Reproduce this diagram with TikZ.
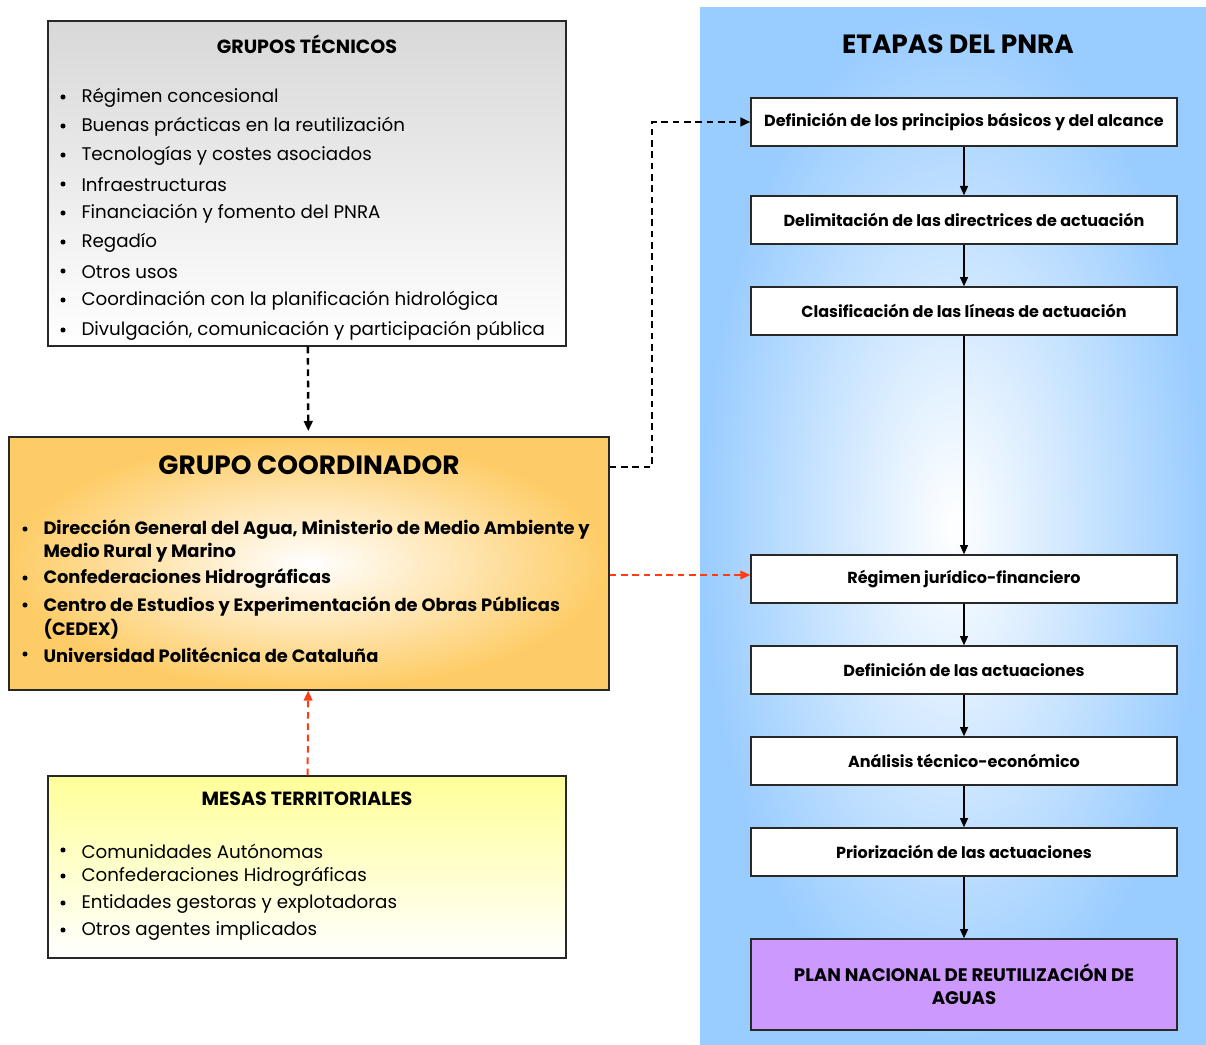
\documentclass[tikz,border=0pt]{standalone}
\usepackage{fontspec}
\setmainfont{Poppins}
\usetikzlibrary{arrows.meta}

\definecolor{azulpanel}{RGB}{153,204,255}
\definecolor{naranja}{RGB}{254,204,102}
\definecolor{amarillo}{RGB}{255,255,153}
\definecolor{gris}{RGB}{216,216,216}
\definecolor{lila}{RGB}{204,153,255}
\definecolor{rojo}{RGB}{255,60,20}
\definecolor{borde}{RGB}{40,40,40}

\tikzset{every picture/.style={line width=0.75pt}}
\tikzset{
  caja/.style={draw=borde, line width=1pt, inner sep=0pt},
  etapa/.style={caja, fill=white, minimum width=319.5pt, minimum height=36pt,
    font=\fontsize{12}{14}\selectfont\bfseries},
  lista/.style={anchor=west, inner sep=0pt, font=\fontsize{13.7}{16}\selectfont},
  listab/.style={anchor=west, inner sep=0pt, font=\fontsize{13.4}{16}\selectfont\bfseries},
  punto/.style={circle, fill=black, minimum size=3.8pt, inner sep=0pt},
  titulo/.style={inner sep=0pt, font=\fontsize{14.3}{17}\selectfont\bfseries},
  titulogr/.style={inner sep=0pt, font=\fontsize{19.8}{23}\selectfont\bfseries},
  flecha/.style={-{Triangle[length=7pt,width=6pt]}, line width=1.1pt},
  rayas/.style={-{Triangle[length=7.5pt,width=6.5pt]}, dash pattern=on 5pt off 3.5pt, line width=1.8pt},
  rayasroja/.style={-{Triangle[length=7.5pt,width=6.5pt]}, draw=rojo, dash pattern=on 5pt off 3.5pt, line width=1.5pt}
}

\begin{document}
\begin{tikzpicture}[x=0.75pt,y=0.75pt,yscale=-1,xscale=1]
\path[use as bounding box] (0,0) rectangle (1206,1045);

% panel de etapas
\path[shading=radial, inner color=white, outer color=azulpanel] (700,8) rectangle (1206,1045);
\node[titulogr] (tetapas) at (958,44) {ETAPAS DEL PNRA};

% cajas de la izquierda
\node[caja, top color=gris, bottom color=white, minimum width=388.5pt, minimum height=243.75pt] (tecnicos) at (307,183.5) {};
\node[caja, shading=radial, inner color=white, outer color=naranja, minimum width=450pt, minimum height=189.75pt] (coord) at (309,563.5) {};
\node[caja, top color=amarillo, bottom color=white, minimum width=388.5pt, minimum height=136.5pt] (mesas) at (307,867) {};

% grupos tecnicos
\node[titulo] (ttecnicos) at (307,44) {GRUPOS TÉCNICOS};
\foreach \y/\t [count=\i] in {98/Régimen concesional, 127/Buenas prácticas en la reutilización,
    156/Tecnologías y costes asociados, 185/Infraestructuras, 214/Financiación y fomento del PNRA,
    243/Regadío, 272/Otros usos, 301/Coordinación con la planificación hidrológica,
    331/{Divulgación, comunicación y participación pública}}{
  \node[punto] (gb\i) at (63,\y-1) {};
  \node[lista] (gt\i) at (81,\y) {\t};
}

% grupo coordinador
\node[titulogr] (tcoord) at (309,465) {GRUPO COORDINADOR};
\foreach \y in {530,579,606,655}{
  \node[punto] (cb\y) at (25,\y-1) {};
}
\node[listab] (c1) at (43,530) {Dirección General del Agua, Ministerio de Medio Ambiente y};
\node[listab] (c2) at (43,553) {Medio Rural y Marino};
\node[listab] (c3) at (43,579) {Confederaciones Hidrográficas};
\node[listab] (c4) at (43,606) {Centro de Estudios y Experimentación de Obras Públicas};
\node[listab] (c5) at (43,629) {(CEDEX)};
\node[listab] (c6) at (43,655) {Universidad Politécnica de Cataluña};

% mesas territoriales
\node[titulo] (tmesas) at (307,799) {MESAS TERRITORIALES};
\foreach \y/\t [count=\i] in {851/Comunidades Autónomas, 877/Confederaciones Hidrográficas,
    904/Entidades gestoras y explotadoras, 931/Otros agentes implicados}{
  \node[punto] (mb\i) at (63,\y-1) {};
  \node[lista] (mt\i) at (81,\y) {\t};
}

% etapas
\node[etapa] (e1) at (964,122) {Definición de los principios básicos y del alcance};
\node[etapa] (e2) at (964,220) {Delimitación de las directrices de actuación};
\node[etapa] (e3) at (964,311) {Clasificación de las líneas de actuación};
\node[etapa] (e4) at (964,579) {Régimen jurídico-financiero};
\node[etapa] (e5) at (964,670) {Definición de las actuaciones};
\node[etapa] (e6) at (964,761) {Análisis técnico-económico};
\node[etapa] (e7) at (964,852) {Priorización de las actuaciones};
\node[caja, fill=lila, minimum width=319.5pt, minimum height=68.25pt, align=center,
  font=\fontsize{13.6}{17.5}\selectfont\bfseries] (plan) at (964,984.5)
  {PLAN NACIONAL DE REUTILIZACIÓN DE\\AGUAS};

\draw[flecha] (e1) -- (e2);
\draw[flecha] (e2) -- (e3);
\draw[flecha] (e3) -- (e4);
\draw[flecha] (e4) -- (e5);
\draw[flecha] (e5) -- (e6);
\draw[flecha] (e6) -- (e7);
\draw[flecha] (e7) -- (plan);

% conexiones
\coordinate (quiebre) at (652,467);
\draw[rayas, shorten >=4pt] (tecnicos) -- (coord);
\draw[rayas] (coord.east |- quiebre) -- (quiebre) |- (e1.west);
\draw[rayasroja] (coord.east |- 0,575) -- (e4.west |- 0,575);
\draw[rayasroja] (mesas) -- (coord);

\end{tikzpicture}
\end{document}
